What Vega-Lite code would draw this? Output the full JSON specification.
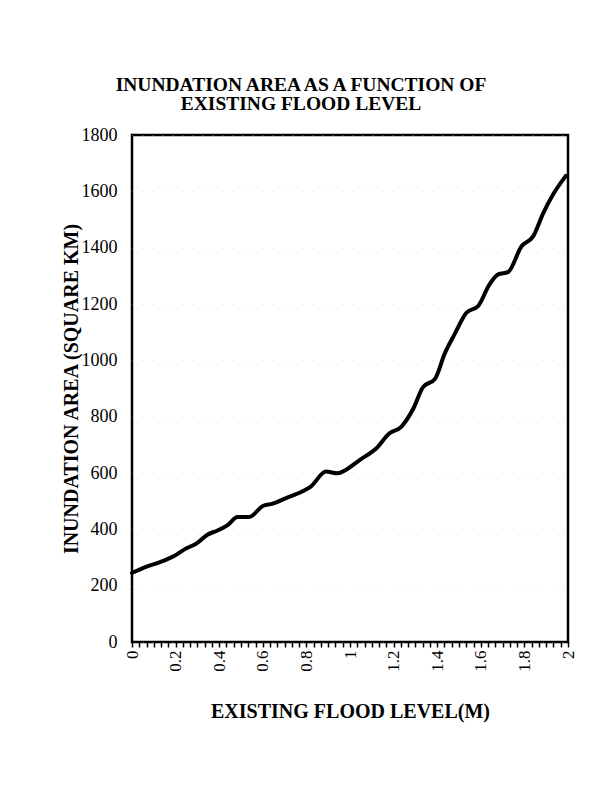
{
  "$schema": "https://vega.github.io/schema/vega-lite/v6.json",
  "description": "Inundation area as a function of existing flood level",
  "autosize": {"type": "none"},
  "padding": {"left": 132, "top": 135, "right": 38, "bottom": 144},
  "width": 436,
  "height": 507,
  "background": "white",
  "title": {
    "text": ["INUNDATION AREA AS A FUNCTION OF", "EXISTING FLOOD LEVEL"],
    "anchor": "middle",
    "dx": -49,
    "font": "Liberation Serif",
    "fontSize": 19.5,
    "fontWeight": "bold",
    "color": "black",
    "lineHeight": 19,
    "offset": 12
  },
  "data": {
    "values": [
      {"level": 0, "area": 245},
      {"level": 0.055, "area": 264},
      {"level": 0.14, "area": 287},
      {"level": 0.193, "area": 305},
      {"level": 0.239, "area": 328},
      {"level": 0.3, "area": 352},
      {"level": 0.346, "area": 381},
      {"level": 0.39, "area": 395},
      {"level": 0.44, "area": 416},
      {"level": 0.484, "area": 444},
      {"level": 0.538, "area": 444},
      {"level": 0.6, "area": 483},
      {"level": 0.645, "area": 491},
      {"level": 0.707, "area": 511},
      {"level": 0.78, "area": 534},
      {"level": 0.82, "area": 552},
      {"level": 0.89, "area": 605},
      {"level": 0.944, "area": 599},
      {"level": 0.98, "area": 611},
      {"level": 1.044, "area": 646},
      {"level": 1.12, "area": 687},
      {"level": 1.18, "area": 740},
      {"level": 1.235, "area": 764},
      {"level": 1.29, "area": 828},
      {"level": 1.335, "area": 905},
      {"level": 1.39, "area": 934},
      {"level": 1.434, "area": 1023},
      {"level": 1.48, "area": 1093},
      {"level": 1.534, "area": 1169},
      {"level": 1.588, "area": 1193},
      {"level": 1.64, "area": 1270},
      {"level": 1.68, "area": 1305},
      {"level": 1.725, "area": 1313},
      {"level": 1.787, "area": 1405},
      {"level": 1.84, "area": 1440},
      {"level": 1.886, "area": 1522},
      {"level": 1.93, "area": 1587},
      {"level": 1.99, "area": 1655}
    ]
  },
  "mark": {
    "type": "line",
    "color": "black",
    "strokeWidth": 4,
    "strokeJoin": "round",
    "strokeCap": "round",
    "interpolate": "monotone"
  },
  "encoding": {
    "x": {
      "field": "level",
      "type": "quantitative",
      "scale": {"domain": [0, 2], "nice": false, "zero": false},
      "title": "EXISTING FLOOD LEVEL(M)",
      "axis": {
        "values": [0, 0.0333, 0.0667, 0.1, 0.1333, 0.1667, 0.2, 0.2333, 0.2667, 0.3, 0.3333, 0.3667, 0.4, 0.4333, 0.4667, 0.5, 0.5333, 0.5667, 0.6, 0.6333, 0.6667, 0.7, 0.7333, 0.7667, 0.8, 0.8333, 0.8667, 0.9, 0.9333, 0.9667, 1, 1.0333, 1.0667, 1.1, 1.1333, 1.1667, 1.2, 1.2333, 1.2667, 1.3, 1.3333, 1.3667, 1.4, 1.4333, 1.4667, 1.5, 1.5333, 1.5667, 1.6, 1.6333, 1.6667, 1.7, 1.7333, 1.7667, 1.8, 1.8333, 1.8667, 1.9, 1.9333, 1.9667, 2],
        "labelExpr": "abs(datum.value * 5 - round(datum.value * 5)) < 0.01 ? format(round(datum.value * 5) / 5, '~g') : ''",
        "labelAngle": -90,
        "labelOverlap": false,
        "labelFlush": false,
        "labelFont": "Liberation Serif",
        "labelFontSize": 17,
        "labelColor": "black",
        "labelPadding": 3,
        "tickSize": 5,
        "tickWidth": 1.5,
        "tickColor": "black",
        "domain": false,
        "grid": false,
        "titleFont": "Liberation Serif",
        "titleFontSize": 20,
        "titleFontWeight": "bold",
        "titleColor": "black",
        "titlePadding": 30
      }
    },
    "y": {
      "field": "area",
      "type": "quantitative",
      "scale": {"domain": [0, 1800], "nice": false},
      "title": "INUNDATION AREA (SQUARE KM)",
      "axis": {
        "values": [0, 200, 400, 600, 800, 1000, 1200, 1400, 1600, 1800],
        "format": "d",
        "ticks": false,
        "domain": false,
        "grid": true,
        "gridColor": "#bbbbbb",
        "gridDash": [1, 9],
        "gridOpacity": 0.6,
        "labelFont": "Liberation Serif",
        "labelFontSize": 18,
        "labelColor": "black",
        "labelPadding": 15,
        "titleFont": "Liberation Serif",
        "titleFontSize": 20,
        "titleFontWeight": "bold",
        "titleColor": "black",
        "titlePadding": 0
      }
    }
  },
  "config": {
    "view": {"stroke": "black", "strokeWidth": 2.5}
  }
}
